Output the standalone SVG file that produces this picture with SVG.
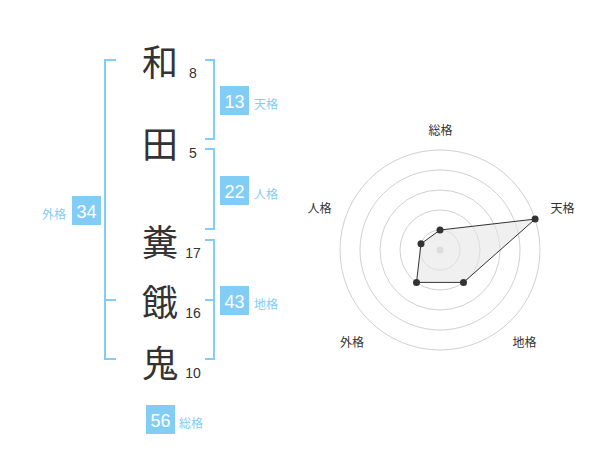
<svg xmlns="http://www.w3.org/2000/svg" width="600" height="470" viewBox="0 0 600 470">
<style>
.ch{font-family:"Noto Sans CJK JP","Noto Sans CJK SC",sans-serif;font-size:36px;fill:#333;text-anchor:middle;dominant-baseline:central}
.num{font-family:"Liberation Sans",Arial,sans-serif;font-size:14px;fill:#333;text-anchor:middle}
.br{fill:none;stroke:#82cdf6;stroke-width:2}
.box{fill:#82cdf6}
.bn{font-family:"Liberation Sans",Arial,sans-serif;font-size:18px;fill:#fff;text-anchor:middle}
.bl{font-family:"Noto Sans CJK JP","Noto Sans CJK SC",sans-serif;font-size:12px;fill:#82cdf6}
.ring{fill:none;stroke:#d0d0d0;stroke-width:1}
.rl{font-family:"Noto Sans CJK JP","Noto Sans CJK SC",sans-serif;font-size:12px;fill:#333;text-anchor:middle}
.pt{fill:#333}
</style>
<rect width="600" height="470" fill="#fff"/>
<g id="chars">
<text class="ch" x="160" y="60">和</text>
<text class="ch" x="160" y="142">田</text>
<text class="ch" x="160" y="240">糞</text>
<text class="ch" x="160" y="300">餓</text>
<text class="ch" x="160" y="361">鬼</text>
<text class="num" x="193" y="78">8</text>
<text class="num" x="193" y="158">5</text>
<text class="num" x="193" y="258">17</text>
<text class="num" x="193" y="318">16</text>
<text class="num" x="193" y="378">10</text>
</g>
<g id="connectors">
<path class="br" d="M116,60H105V359H116M105,300H116"/>
<path class="br" d="M205,60H214V139H205"/>
<path class="br" d="M205,149H214V229H205"/>
<path class="br" d="M205,240H214V359H205M214,300H205"/>
</g>
<g id="tenkaku">
<rect class="box" x="220" y="86" width="29" height="29"/>
<text class="bn" x="234.5" y="107.5">13</text>
<text class="bl" x="254" y="109">天格</text>
</g>
<g id="jinkaku">
<rect class="box" x="220" y="176" width="29" height="29"/>
<text class="bn" x="234.5" y="197.5">22</text>
<text class="bl" x="254" y="199">人格</text>
</g>
<g id="chikaku">
<rect class="box" x="220" y="286" width="29" height="29"/>
<text class="bn" x="234.5" y="307.5">43</text>
<text class="bl" x="254" y="309">地格</text>
</g>
<g id="gaikaku">
<rect class="box" x="72" y="196" width="29" height="29"/>
<text class="bn" x="86.5" y="217.5">34</text>
<text class="bl" x="66" y="219" text-anchor="end">外格</text>
</g>
<g id="soukaku">
<rect class="box" x="146" y="405" width="29" height="29"/>
<text class="bn" x="160.5" y="426.5">56</text>
<text class="bl" x="179" y="428">総格</text>
</g>
<g id="radar">
<circle class="ring" cx="440" cy="250" r="20"/>
<circle class="ring" cx="440" cy="250" r="40"/>
<circle class="ring" cx="440" cy="250" r="60"/>
<circle class="ring" cx="440" cy="250" r="80"/>
<circle class="ring" cx="440" cy="250" r="100"/>
<circle cx="440" cy="250" r="3.5" fill="#ccc"/>
<polygon points="440,230 535.1,219.1 463.5,282.4 416.5,282.4 421,243.8" fill="#e6e6e6" fill-opacity="0.6" stroke="#333" stroke-width="1"/>
<circle class="pt" cx="440" cy="230" r="3.5"/>
<circle class="pt" cx="535.1" cy="219.1" r="3.5"/>
<circle class="pt" cx="463.5" cy="282.4" r="3.5"/>
<circle class="pt" cx="416.5" cy="282.4" r="3.5"/>
<circle class="pt" cx="421" cy="243.8" r="3.5"/>
<text class="rl" x="440.5" y="135">総格</text>
<text class="rl" x="562.5" y="213">天格</text>
<text class="rl" x="319.5" y="213">人格</text>
<text class="rl" x="352" y="347">外格</text>
<text class="rl" x="524.5" y="347">地格</text>
</g>
</svg>
